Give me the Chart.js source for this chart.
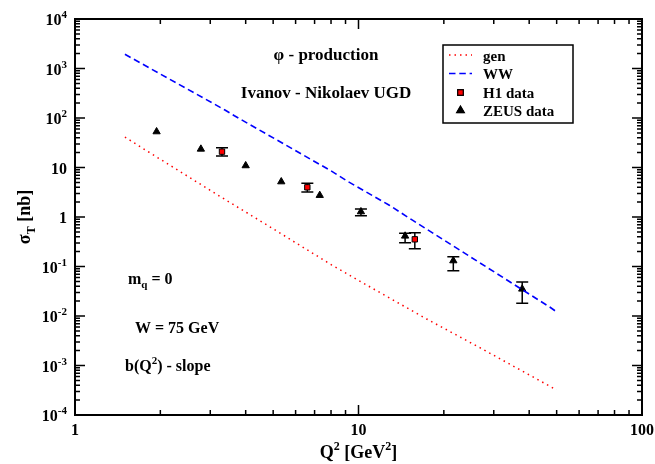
<!DOCTYPE html>
<html><head><meta charset="utf-8">
<script src="https://cdn.jsdelivr.net/npm/chart.js@4/dist/chart.umd.min.js"></script>
<style>html,body{margin:0;padding:0;background:#fff}canvas{display:block}</style>
</head><body>
<canvas id="c" width="655" height="464"></canvas>
<script>
// ---- data ----
const genQ2    = [1.5, 1.72, 3.16, 5.01, 8.05, 11.1, 17.4, 26.8, 50];
const genSigma = [41.3, 25.1, 2.87, 0.573, 0.107, 0.0373, 0.00869, 0.00229, 0.00032];
const wwQ2     = [1.5, 3.38, 3.65, 7.98, 9.2, 12.8, 15.6, 47.4, 50];
const wwSigma  = [1936, 145, 111, 8.62, 5.17, 1.75, 0.842, 0.0150, 0.0121];
const h1Q2     = [3.3, 6.6, 15.8];
const h1Sigma  = [20.9, 3.98, 0.354];
const h1Low    = [17.1, 3.20, 0.229];
const h1High   = [25.1, 4.80, 0.482];
const zeusQ2    = [1.94, 2.78, 4.0, 5.34, 7.3, 10.2, 14.6, 21.6, 37.8];
const zeusSigma = [52.9, 23.6, 10.9, 5.16, 2.74, 1.28, 0.413, 0.131, 0.0351];
const zeusLow   = [null, null, null, null, null, 1.06, 0.303, 0.0822, 0.0181];
const zeusHigh  = [null, null, null, null, null, 1.45, 0.469, 0.158, 0.0486];
const xTicks = [1, 10, 100];
const xTickLabels = ['1', '10', '100'];
const yTicks = [1e4, 1e3, 1e2, 10, 1, 0.1, 0.01, 0.001, 0.0001];
const yTickLabels = [['10','4'], ['10','3'], ['10','2'], ['10',''], ['1',''], ['10','-1'], ['10','-2'], ['10','-3'], ['10','-4']];
const seriesNames = ['gen', 'WW', 'H1 data', 'ZEUS data'];

const FONT = '"Liberation Serif", "Times New Roman", Times, serif';

function pts(xs, ys) { return xs.map((x, i) => ({x: x, y: ys[i]})); }

function drawRich(ctx, parts, x, y, align, size) {
  const small = Math.round(size * 0.68);
  const ws = []; let total = 0;
  parts.forEach(p => {
    ctx.font = 'bold ' + (p.k === 'n' ? size : small) + 'px ' + FONT;
    const w = ctx.measureText(p.t).width; ws.push(w); total += w;
  });
  let cx = align === 'center' ? x - total / 2 : (align === 'right' ? x - total : x);
  ctx.textAlign = 'left'; ctx.textBaseline = 'alphabetic';
  parts.forEach((p, i) => {
    ctx.font = 'bold ' + (p.k === 'n' ? size : small) + 'px ' + FONT;
    const dy = p.k === 'sup' ? -size * 0.42 : (p.k === 'sub' ? size * 0.28 : 0);
    ctx.fillText(p.t, cx, y + dy);
    cx += ws[i];
  });
}

const errorBars = {
  id: 'errorBars',
  beforeDatasetsDraw(chart) {
    const ctx = chart.ctx, xs = chart.scales.x, ys = chart.scales.y;
    const sets = [[h1Q2, h1Low, h1High], [zeusQ2, zeusLow, zeusHigh]];
    ctx.save();
    ctx.strokeStyle = '#000'; ctx.lineWidth = 1.5;
    sets.forEach(([q, lo, hi]) => {
      q.forEach((v, i) => {
        if (lo[i] == null) return;
        const px = xs.getPixelForValue(v);
        const y1 = ys.getPixelForValue(lo[i]), y2 = ys.getPixelForValue(hi[i]);
        ctx.beginPath();
        ctx.moveTo(px, y1); ctx.lineTo(px, y2);
        ctx.moveTo(px - 6, y1); ctx.lineTo(px + 6, y1);
        ctx.moveTo(px - 6, y2); ctx.lineTo(px + 6, y2);
        ctx.stroke();
      });
    });
    ctx.restore();
  }
};

const frame = {
  id: 'frame',
  afterDraw(chart) {
    const ctx = chart.ctx, a = chart.chartArea, xs = chart.scales.x, ys = chart.scales.y;
    ctx.save();
    ctx.strokeStyle = '#000';
    ctx.lineWidth = 1.5;
    // minor & major ticks, both sides
    ctx.beginPath();
    for (let d = 1; d < 100; d *= 10) {
      for (let m = 1; m <= 10; m++) {
        const v = d * m; if (v > 100) continue;
        const px = xs.getPixelForValue(v);
        const len = (m === 1 || m === 10) ? 10 : 5;
        ctx.moveTo(px, a.bottom); ctx.lineTo(px, a.bottom - len);
        ctx.moveTo(px, a.top); ctx.lineTo(px, a.top + len);
      }
    }
    for (let e = -4; e < 4; e++) {
      const d = Math.pow(10, e);
      for (let m = 1; m <= 10; m++) {
        const py = ys.getPixelForValue(d * m);
        const len = (m === 1 || m === 10) ? 10 : 5;
        ctx.moveTo(a.left, py); ctx.lineTo(a.left + len, py);
        ctx.moveTo(a.right, py); ctx.lineTo(a.right - len, py);
      }
    }
    ctx.stroke();
    ctx.lineWidth = 2;
    ctx.strokeRect(a.left, a.top, a.right - a.left, a.bottom - a.top);

    // tick labels
    ctx.fillStyle = '#000';
    xTicks.forEach((v, i) => {
      drawRich(ctx, [{t: xTickLabels[i], k: 'n'}], xs.getPixelForValue(v), a.bottom + 20, 'center', 16);
    });
    yTicks.forEach((v, i) => {
      const py = ys.getPixelForValue(v);
      const [base, sup] = yTickLabels[i];
      const parts = [{t: base, k: 'n'}];
      if (sup) parts.push({t: sup, k: 'sup'});
      drawRich(ctx, parts, a.left - 8, py + 6, 'right', 16);
    });

    // axis titles
    drawRich(ctx, [{t: 'Q', k: 'n'}, {t: '2', k: 'sup'}, {t: ' [GeV', k: 'n'}, {t: '2', k: 'sup'}, {t: ']', k: 'n'}],
      (a.left + a.right) / 2, a.bottom + 43, 'center', 18);
    ctx.save();
    ctx.translate(24, (a.top + a.bottom) / 2);
    ctx.rotate(-Math.PI / 2);
    drawRich(ctx, [{t: '\u03C3', k: 'n'}, {t: 'T', k: 'sub'}, {t: ' [nb]', k: 'n'}], 0, 6, 'center', 18);
    ctx.restore();

    // annotations
    drawRich(ctx, [{t: '\u03C6 - production', k: 'n'}], 326, 60, 'center', 17);
    drawRich(ctx, [{t: 'Ivanov - Nikolaev UGD', k: 'n'}], 326, 98, 'center', 17);
    drawRich(ctx, [{t: 'm', k: 'n'}, {t: 'q', k: 'sub'}, {t: ' = 0', k: 'n'}], 128, 284, 'left', 16);
    drawRich(ctx, [{t: 'W = 75 GeV', k: 'n'}], 135, 333, 'left', 16);
    drawRich(ctx, [{t: 'b(Q', k: 'n'}, {t: '2', k: 'sup'}, {t: ') - slope', k: 'n'}], 125, 371, 'left', 16);

    // legend
    const lx = 443, ly = 45, lw = 130, lh = 78;
    ctx.fillStyle = '#fff';
    ctx.fillRect(lx, ly, lw, lh);
    ctx.lineWidth = 1.5; ctx.strokeStyle = '#000';
    ctx.strokeRect(lx, ly, lw, lh);
    const rowY = [55, 73.5, 92.5, 110.5];
    chart.data.datasets.forEach((ds, i) => {
      const y = rowY[i];
      ctx.save();
      if (ds.showLine) {
        ctx.strokeStyle = ds.borderColor; ctx.lineWidth = ds.borderWidth;
        ctx.setLineDash(ds.borderDash || []);
        ctx.beginPath(); ctx.moveTo(449, y); ctx.lineTo(472, y); ctx.stroke();
      } else {
        Chart.helpers.drawPoint(ctx, {
          pointStyle: ds.pointStyle, radius: ds.pointRadius, rotation: 0, borderWidth: ds.borderWidth
        }, 460.5, y);
        ctx.fillStyle = ds.backgroundColor; ctx.strokeStyle = ds.borderColor; ctx.lineWidth = ds.borderWidth;
        ctx.beginPath();
        Chart.helpers.drawPoint(ctx, {pointStyle: ds.pointStyle, radius: ds.pointRadius, rotation: 0, borderWidth: ds.borderWidth}, 460.5, y);
      }
      ctx.restore();
      ctx.fillStyle = '#000';
      drawRich(ctx, [{t: ds.label, k: 'n'}], 483, y + 5.5, 'left', 15);
    });
    ctx.restore();
  }
};

new Chart(document.getElementById('c'), {
  type: 'scatter',
  data: {
    datasets: [
      { label: seriesNames[0], data: pts(genQ2, genSigma), showLine: true, pointRadius: 0,
        borderColor: '#ff0000', borderWidth: 1.5, borderDash: [1.5, 4], fill: false, tension: 0 },
      { label: seriesNames[1], data: pts(wwQ2, wwSigma), showLine: true, pointRadius: 0,
        borderColor: '#0000ff', borderWidth: 1.6, borderDash: [6.5, 3.8], fill: false, tension: 0 },
      { label: seriesNames[2], data: pts(h1Q2, h1Sigma), showLine: false, pointStyle: 'rect',
        pointRadius: 3.8, backgroundColor: '#ff0000', borderColor: '#000', borderWidth: 1 },
      { label: seriesNames[3], data: pts(zeusQ2, zeusSigma), showLine: false, pointStyle: 'triangle',
        pointRadius: 4.2, backgroundColor: '#000', borderColor: '#000', borderWidth: 1 }
    ]
  },
  options: {
    responsive: false,
    animation: false,
    layout: { padding: { left: 75, right: 13, top: 19, bottom: 49 } },
    plugins: { legend: { display: false }, tooltip: { enabled: false } },
    scales: {
      x: { type: 'logarithmic', min: 1, max: 100, display: false },
      y: { type: 'logarithmic', min: 1e-4, max: 1e4, display: false }
    }
  },
  plugins: [errorBars, frame]
});
</script>
</body></html>
